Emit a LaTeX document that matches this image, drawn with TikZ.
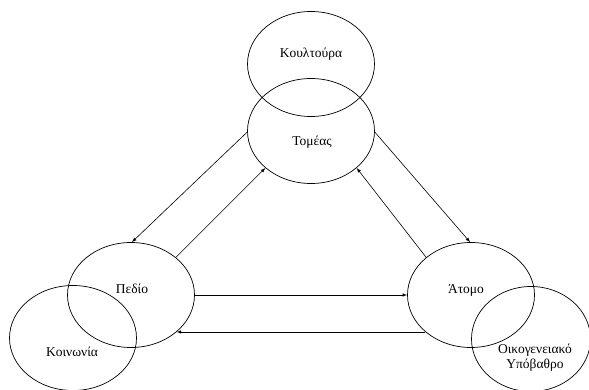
\documentclass[tikz,border=0pt]{standalone}
\usepackage{fontspec}
\setmainfont{Liberation Serif}
\usetikzlibrary{arrows,shapes,positioning}

\begin{document}
\begin{tikzpicture}[x=1pt,y=-1pt,% picture coordinates, y grows downwards
		every node/.style={
			align=center,  		% use this so that the "\\" for line break works
			font=\fontsize{13.5}{15}\selectfont
		},
		circ/.style={ellipse,draw=black,line width=0.7pt,inner sep=0pt,minimum width=127pt,minimum height=105pt},
		every edge/.style={draw,line width=0.6pt},
		>=latex
	]
	\useasboundingbox (0,0) rectangle (589,390);
	\node[circ](Koultoura) at (311,64){};
	\node[circ](Tomeas) at (311,131){};
	\node[circ](Pedio) at (131,295){};
	\node[circ](Koinonia) at (73,338){};
	\node[circ](Atomo) at (471,295){};
	\node[circ,minimum width=119pt](Oikogeneia) at (531,339){};
	% texts sit off the centres of the ellipses
	\node(KoultouraT) at (311,54){Κουλτούρα};
	\node(TomeasT) at (312,142){Τομέας};
	\node(PedioT) at (132,289){Πεδίο};
	\node(KoinoniaT) at (72,352){Κοινωνία};
	\node(AtomoT) at (466,290){Άτομο};
	\node(OikogeneiaT) at (535,358){Οικογενειακό \\ Υπόβαθρο};
	\path[->]
	(Tomeas.181)edge []	(Pedio.89)
	(Pedio.40)edge []	(Tomeas.219)
	(Atomo.140)edge []	(Tomeas.321)
	(Tomeas.359)edge []	(Atomo.91)
	(Pedio.east)edge []	(Atomo.west)
	(Atomo.219)edge []	(Pedio.321)
	;
\end{tikzpicture}
\end{document}
